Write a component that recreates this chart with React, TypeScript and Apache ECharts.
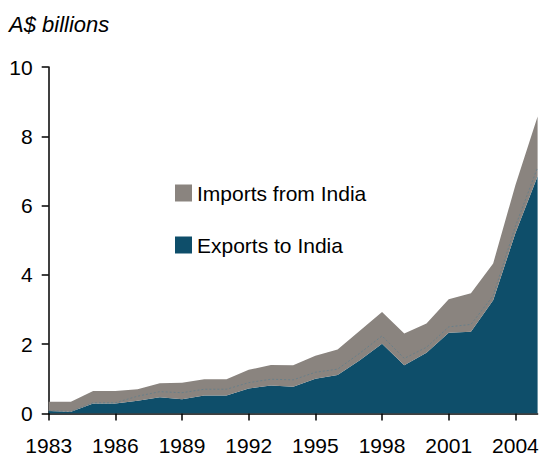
import React, { useEffect, useRef } from "react";
import * as echarts from "echarts";

const years = [
  "1983", "1984", "1985", "1986", "1987", "1988", "1989", "1990", "1991", "1992", "1993", "1994",
  "1995", "1996", "1997", "1998", "1999", "2000", "2001", "2002", "2003", "2004", "2005",
];

const exportsToIndia = [
  0.07, 0.05, 0.29, 0.29, 0.37, 0.47, 0.41, 0.52, 0.52, 0.72, 0.81, 0.77,
  1.0, 1.11, 1.54, 2.01, 1.39, 1.75, 2.33, 2.36, 3.27, 5.2, 6.85,
];

const importsFromIndia = [
  0.27, 0.29, 0.36, 0.36, 0.33, 0.40, 0.48, 0.47, 0.47, 0.54, 0.59, 0.62,
  0.67, 0.74, 0.85, 0.92, 0.92, 0.85, 0.97, 1.11, 1.06, 1.39, 1.72,
];

// thin dotted divider line visible inside the grey band
const dividerLine = [
  0.08, 0.06, 0.31, 0.31, 0.5, 0.63, 0.6, 0.7, 0.7, 0.89, 0.99, 0.97,
  1.19, 1.28, 1.74, 2.24, 1.59, 1.91, 2.5, 2.57, 3.4, 5.4, 7.1,
];

const yTicks = { min: 0, max: 10, interval: 2 };

const FONT = "'Liberation Sans', Arial, sans-serif";
const DARK = "#0e4e6a";
const GREY = "#8a847f";

export default function App() {
  const ref = useRef<HTMLDivElement>(null);

  useEffect(() => {
    if (!ref.current) return;
    const chart = echarts.init(ref.current, null, { renderer: "svg" });
    chart.setOption({
      animation: false,
      backgroundColor: "#ffffff",
      title: {
        text: "A$ billions",
        left: 9,
        top: 13,
        padding: 0,
        textStyle: {
          fontFamily: FONT,
          fontStyle: "italic",
          fontWeight: "normal",
          fontSize: 22,
          color: "#000",
        },
      },
      legend: {
        data: ["Imports from India", "Exports to India"],
        orient: "vertical",
        left: 175,
        top: 182.5,
        padding: 0,
        itemWidth: 17,
        itemHeight: 17,
        itemGap: 31,
        icon: "rect",
        textStyle: { fontFamily: FONT, fontSize: 21, lineHeight: 21, color: "#000" },
      },
      grid: {
        left: 48.7,
        right: 4.4,
        top: 67,
        bottom: 42.5,
        containLabel: false,
        outerBoundsMode: "none",
      },
      xAxis: {
        type: "category",
        data: years,
        boundaryGap: false,
        axisLine: { show: true, lineStyle: { color: "#000", width: 1.5 } },
        axisTick: { show: true, interval: 2, length: 7, lineStyle: { color: "#000", width: 1.5 } },
        axisLabel: {
          interval: 2,
          margin: 22.5,
          fontFamily: FONT,
          fontSize: 21,
          lineHeight: 19,
          color: "#000",
        },
        splitLine: { show: false },
      },
      yAxis: {
        type: "value",
        min: yTicks.min,
        max: yTicks.max,
        interval: yTicks.interval,
        axisLine: { show: true, lineStyle: { color: "#000", width: 1.5 } },
        axisTick: { show: true, length: 7, lineStyle: { color: "#000", width: 1.5 } },
        axisLabel: { margin: 16, fontFamily: FONT, fontSize: 21, color: "#000" },
        splitLine: { show: false },
      },
      series: [
        {
          name: "Exports to India",
          type: "line",
          stack: "total",
          data: exportsToIndia,
          symbol: "none",
          lineStyle: { width: 0 },
          itemStyle: { color: DARK },
          areaStyle: { color: DARK, opacity: 1 },
          z: 2,
        },
        {
          name: "Imports from India",
          type: "line",
          stack: "total",
          data: importsFromIndia,
          symbol: "none",
          lineStyle: { width: 0 },
          itemStyle: { color: GREY },
          areaStyle: { color: GREY, opacity: 1 },
          z: 2,
        },
        {
          name: "divider",
          type: "line",
          data: dividerLine,
          symbol: "none",
          lineStyle: { width: 0.8, color: "#5f7d8b", type: [2, 2] },
          z: 3,
          silent: true,
        },
      ],
    });
    return () => chart.dispose();
  }, []);

  return (
    <div
      ref={ref}
      style={{ position: "fixed", left: 0, top: 0, width: 542, height: 456 }}
    />
  );
}
